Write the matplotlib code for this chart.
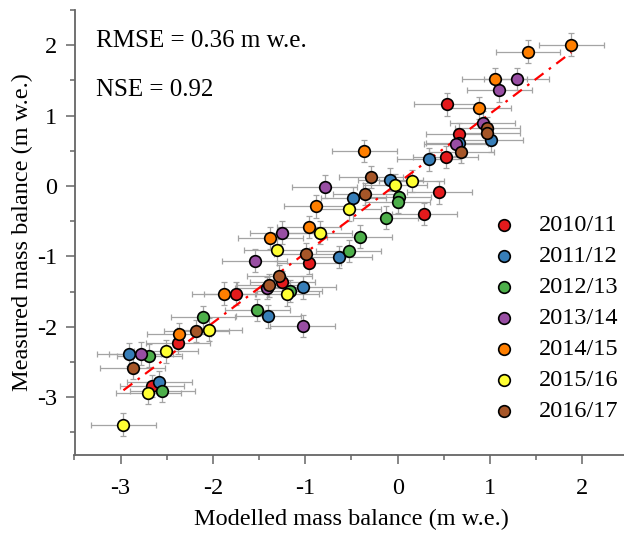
import numpy as np
import matplotlib
matplotlib.use("Agg")
import matplotlib.pyplot as plt

plt.rcParams['font.family'] = ['Liberation Serif', 'DejaVu Serif']
plt.rcParams['axes.unicode_minus'] = False

years = ["2010/11", "2011/12", "2012/13", "2013/14", "2014/15", "2015/16", "2016/17"]
colors = ["#e41a1c", "#377eb8", "#4daf4a", "#984ea3", "#ff7f00", "#ffff33", "#a65628"]

mod_1011 = [-2.66, -2.38, -1.75, -1.25, -0.96, 0.29, 0.45, 0.52, 0.66, 0.53]
mea_1011 = [-2.84, -2.23, -1.53, -1.37, -1.09, -0.40, -0.09, 0.41, 0.74, 1.16]
mod_1112 = [-2.91, -2.58, -1.40, -1.02, -0.63, -0.48, -0.08, 0.34, 0.66, 1.01]
mea_1112 = [-2.39, -2.79, -1.85, -1.44, -1.01, -0.17, 0.09, 0.38, 0.61, 0.65]
mod_1213 = [-2.69, -2.55, -2.11, -1.52, -1.17, -0.53, -0.41, -0.13, 0.01, 0.00]
mea_1213 = [-2.41, -2.91, -1.86, -1.76, -1.49, -0.92, -0.72, -0.45, -0.15, -0.23]
mod_1314 = [-2.78, -1.55, -1.41, -1.25, -1.03, -0.79, 0.63, 0.92, 1.10, 1.29]
mea_1314 = [-2.38, -1.06, -1.45, -0.66, -1.99, -0.01, 0.59, 0.90, 1.36, 1.52]
mod_1415 = [-2.37, -1.88, -1.38, -0.96, -0.88, -0.36, 0.88, 1.05, 1.41, 1.88]
mea_1415 = [-2.10, -1.53, -0.74, -0.58, -0.29, 0.50, 1.11, 1.52, 1.91, 2.01]
mod_1516 = [-2.97, -2.70, -2.51, -2.04, -1.31, -1.20, -0.84, -0.53, -0.03, 0.15]
mea_1516 = [-3.39, -2.94, -2.35, -2.04, -0.91, -1.54, -0.66, -0.33, 0.01, 0.07]
mod_1617 = [-2.87, -2.18, -1.39, -1.28, -0.99, -0.35, -0.29, 0.69, 0.97, 0.97]
mea_1617 = [-2.58, -2.06, -1.41, -1.28, -0.97, -0.11, 0.13, 0.49, 0.82, 0.76]

modelled = [mod_1011, mod_1112, mod_1213, mod_1314, mod_1415, mod_1516, mod_1617]
measured = [mea_1011, mea_1112, mea_1213, mea_1314, mea_1415, mea_1516, mea_1617]

x_err = 0.35
y_err = 0.16

rmse_text = "RMSE = 0.36 m w.e."
nse_text = "NSE = 0.92"
xticks = [-3, -2, -1, 0, 1, 2]
yticks = [-3, -2, -1, 0, 1, 2]

fig = plt.figure(figsize=(6.24, 5.34), dpi=100)
ax = fig.add_axes([74.5/624, 1-455/534, 554/624, 445/534])

for mx, my in zip(modelled, measured):
    ax.errorbar(mx, my, xerr=x_err, yerr=y_err, fmt='none', ecolor='#a4a4a4',
                elinewidth=0.9, capsize=2.5, capthick=0.9, zorder=1)

allx = np.concatenate(modelled)
ally = np.concatenate(measured)
b, a = np.polyfit(allx, ally, 1)
xl = np.array([allx.min(), allx.max()])
ax.plot(xl, a + b*xl, color='#ff0000', lw=1.6, dashes=(5, 3, 1.2, 3), zorder=2)

for mx, my, c, lab in zip(modelled, measured, colors, years):
    ax.scatter(mx, my, s=70, color=c, edgecolor='black', linewidth=1.2, zorder=3, label=lab)

ax.set_xlim(-3.5, 2.5)
ax.set_ylim(-3.82, 2.5)
ax.set_xticks(xticks)
ax.set_yticks(yticks)
ax.set_xticks(np.arange(-3.5, 2.6, 0.5), minor=True)
ax.set_yticks(np.arange(-3.5, 2.6, 0.5), minor=True)
for s in ['top', 'right']:
    ax.spines[s].set_visible(False)
for s in ['left', 'bottom']:
    ax.spines[s].set_color('#666666')
    ax.spines[s].set_linewidth(1.3)
ax.tick_params(which='major', direction='out', length=6.5, width=1.1, color='#666666', labelsize=17.5)
ax.tick_params(which='minor', direction='out', length=3.5, width=1.1, color='#666666')
ax.tick_params(axis='x', pad=10)
ax.tick_params(axis='y', pad=6)

ax.set_xlabel("Modelled mass balance (m w.e.)", fontsize=17.5, labelpad=7)
ax.set_ylabel("Measured mass balance (m w.e.)", fontsize=17.5, labelpad=3)

ax.text(0.038, 0.955, rmse_text, transform=ax.transAxes, fontsize=18, va='top', ha='left')
ax.text(0.038, 0.845, nse_text, transform=ax.transAxes, fontsize=18, va='top', ha='left')

leg = ax.legend(loc='lower right', bbox_to_anchor=(1.0, 0.052), frameon=False, fontsize=17.5,
                handletextpad=0.45, labelspacing=0.37, borderaxespad=0, scatterpoints=1,
                markerscale=1.0)

fig.savefig("out.png", dpi=100)
